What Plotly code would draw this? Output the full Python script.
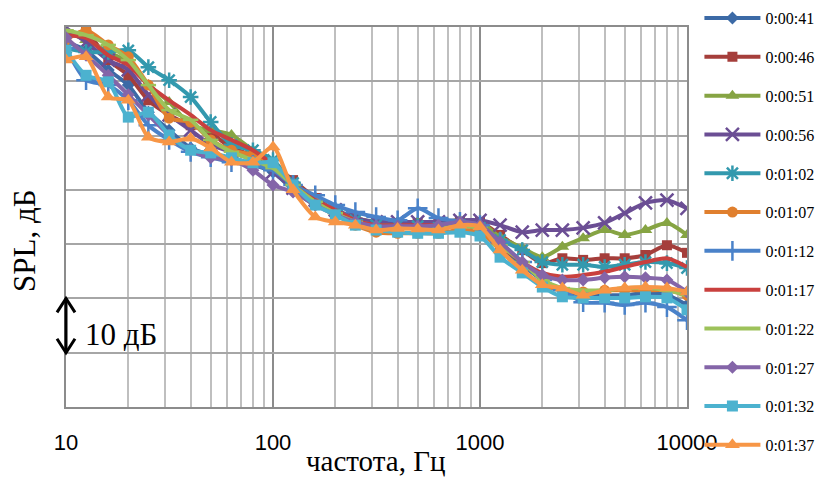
import plotly.graph_objects as go
import math

FREQ = [10, 12.5, 16, 20, 25, 31.5, 40, 50, 63, 80, 100, 125, 160, 200, 250, 315, 400, 500,
        630, 800, 1000, 1250, 1600, 2000, 2500, 3150, 4000, 5000, 6300, 8000, 10000]

NAMES = ["0:00:41", "0:00:46", "0:00:51", "0:00:56", "0:01:02", "0:01:07",
         "0:01:12", "0:01:17", "0:01:22", "0:01:27", "0:01:32", "0:01:37"]

S_0041 = [67.2, 65.7, 62.1, 59.3, 54.3, 51.0, 47.7, 46.4, 45.5, 44.6, 43.3, 40.0, 37.2, 35.7, 34.1, 33.0,
          33.0, 33.0, 33.0, 33.3, 33.0, 29.8, 26.2, 23.4, 21.5, 20.6, 20.6, 20.6, 21.0, 20.6, 18.8]
S_0046 = [68.0, 69.1, 63.9, 61.1, 56.5, 53.8, 51.9, 50.5, 47.7, 46.4, 44.6, 41.8, 38.5, 36.3, 34.8, 34.1,
          33.9, 33.9, 34.1, 34.1, 34.1, 31.7, 28.9, 26.5, 27.4, 27.1, 27.4, 27.4, 28.0, 29.8, 28.4]
S_0051 = [69.1, 67.6, 65.4, 63.5, 59.3, 56.2, 51.9, 51.0, 50.1, 47.3, 44.6, 41.4, 38.1, 36.3, 34.8, 34.1,
          34.1, 34.1, 34.1, 34.4, 34.1, 31.3, 29.3, 27.6, 29.5, 31.1, 32.6, 31.7, 32.6, 33.9, 31.7]
S_0056 = [69.8, 67.2, 63.9, 62.1, 57.5, 53.8, 51.0, 48.3, 47.0, 45.5, 43.3, 40.3, 38.1, 36.3, 34.8, 34.1,
          34.1, 34.1, 34.1, 34.4, 34.4, 33.5, 32.2, 32.6, 32.6, 33.0, 33.9, 35.7, 37.6, 38.1, 36.6]
S_0102 = [66.1, 65.4, 65.4, 65.7, 62.6, 60.2, 57.1, 52.5, 48.3, 47.3, 45.5, 41.3, 38.1, 36.3, 34.4, 33.5,
          33.5, 33.3, 33.0, 33.5, 33.0, 30.8, 28.9, 26.7, 26.2, 26.2, 25.8, 26.2, 26.7, 26.5, 25.6]
S_0107 = [67.6, 69.4, 66.7, 64.5, 59.3, 53.2, 52.5, 49.2, 47.3, 46.4, 44.6, 40.9, 37.6, 35.4, 33.5, 32.2,
          32.0, 32.0, 32.0, 32.6, 32.2, 28.9, 25.2, 22.5, 21.5, 21.2, 21.5, 21.5, 21.5, 21.5, 20.6]
S_0112 = [66.1, 60.2, 59.3, 56.5, 51.9, 49.2, 47.0, 46.0, 45.1, 44.6, 43.6, 40.9, 39.0, 37.2, 35.9, 35.0,
          34.4, 36.6, 34.8, 34.1, 33.5, 30.4, 26.7, 23.4, 21.5, 19.3, 19.2, 18.8, 19.2, 18.4, 16.0]
S_0117 = [68.5, 68.0, 64.8, 63.0, 59.3, 56.5, 53.8, 51.0, 49.2, 47.3, 44.6, 40.9, 38.1, 36.3, 34.4, 33.5,
          33.5, 33.5, 33.5, 33.9, 33.5, 29.8, 26.7, 24.7, 24.0, 24.3, 24.9, 25.8, 26.7, 27.4, 25.8]
S_0122 = [69.4, 68.5, 66.7, 63.9, 59.3, 54.7, 52.9, 49.2, 47.0, 45.5, 44.0, 40.9, 37.8, 35.7, 34.1, 33.0,
          33.0, 33.0, 33.0, 33.3, 33.0, 29.8, 26.7, 23.4, 21.9, 21.5, 21.5, 21.9, 21.9, 21.5, 20.6]
S_0127 = [68.0, 64.8, 61.1, 57.5, 53.8, 50.1, 47.3, 45.9, 45.5, 43.6, 40.9, 39.6, 37.2, 35.4, 34.1, 33.3,
          33.3, 33.3, 33.5, 34.1, 33.5, 30.4, 26.7, 24.3, 23.4, 23.4, 23.8, 24.0, 23.8, 23.4, 21.2]
S_0132 = [65.7, 61.1, 59.9, 53.4, 54.3, 50.1, 47.3, 46.8, 45.9, 45.0, 45.0, 40.9, 37.2, 35.4, 33.5, 32.6,
          32.2, 32.0, 32.0, 32.2, 31.5, 27.6, 24.7, 22.1, 20.3, 20.1, 20.1, 20.1, 20.3, 20.1, 17.9]
S_0137 = [63.9, 64.5, 57.1, 56.5, 49.7, 48.8, 49.5, 47.7, 45.1, 45.1, 47.9, 40.0, 35.0, 34.1, 33.5, 32.6,
          32.9, 32.8, 32.6, 33.5, 33.2, 28.9, 25.2, 22.5, 21.9, 20.6, 21.5, 21.9, 22.1, 21.9, 21.2]

SERIES = [S_0041, S_0046, S_0051, S_0056, S_0102, S_0107,
          S_0112, S_0117, S_0122, S_0127, S_0132, S_0137]

COLORS = ["#3C6AA6", "#A53E3B", "#86A443", "#6B4E94", "#3399AE", "#E07F2E",
          "#4A82C9", "#C9403E", "#9DC25A", "#8465A8", "#4CB2CF", "#F79646"]

SYMBOLS = ["diamond", "square", "triangle-up", "x-thin-open", "asterisk-open", "circle",
           "cross-thin-open", None, "line-ew-open", "diamond", "square", "triangle-up"]
SIZES = [10, 10, 12, 13, 13, 11, 14, 0, 11, 10, 11, 13]

XTICKS = [10, 100, 1000, 10000]
XTICK_TEXT = ["10", "100", "1000", "10000"]
MINOR = [m * d for d in (10, 100, 1000) for m in range(2, 10)]
YGRID = [0, 10, 20, 30, 40, 50, 60, 70]

fig = go.Figure()
for name, vals, col, sym, sz in zip(NAMES, SERIES, COLORS, SYMBOLS, SIZES):
    open_sym = sym is not None and ("open" in sym)
    if sym is None:
        mode = "lines"
        marker = dict()
    else:
        mode = "lines+markers"
        marker = dict(symbol=sym, size=sz, color=col,
                      line=dict(color=col, width=2.5 if open_sym else 0))
    fig.add_trace(go.Scatter(
        x=FREQ, y=vals, name=name, mode=mode,
        line=dict(color=col, width=4, shape="spline", smoothing=0.7),
        marker=marker, legendgroup=name,
    ))

fig.update_xaxes(
    type="log", range=[math.log10(10), math.log10(10000)],
    tickmode="array", tickvals=XTICKS, ticktext=XTICK_TEXT,
    showgrid=True, gridcolor="#8C8C8C", gridwidth=1.5,
    minor=dict(tickmode="array", tickvals=MINOR, showgrid=True, gridcolor="#BFBFBF", gridwidth=1.5, ticklen=0),
    showline=True, linecolor="#8C8C8C", linewidth=1.5, mirror=True,
    ticks="", tickfont=dict(family="Liberation Sans", size=22, color="#000000"),
    ticklabelstandoff=15, zeroline=False,
)
fig.update_yaxes(
    range=[0, 70], tickmode="array", tickvals=YGRID, showticklabels=False,
    showgrid=True, gridcolor="#A6A6A6", gridwidth=1.5,
    showline=True, linecolor="#8C8C8C", linewidth=1.5, mirror=True,
    ticks="", zeroline=False,
)

# 10 dB scale arrow
dx = 9 / 621.0
dy = 14 / 5.43
arrow = dict(color="#000000", width=3)
fig.add_shape(type="line", xref="paper", yref="y", x0=0, x1=0, y0=10, y1=20, line=arrow)
fig.add_shape(type="path", xref="paper", yref="y",
              path=f"M {-dx},{20 - dy} L 0,20 L {dx},{20 - dy}", line=arrow)
fig.add_shape(type="path", xref="paper", yref="y",
              path=f"M {-dx},{10 + dy} L 0,10 L {dx},{10 + dy}", line=arrow)

fig.add_annotation(text="10 дБ", xref="paper", yref="y", x=0.028, y=13.3,
                   xanchor="left", yanchor="middle", showarrow=False,
                   font=dict(family="Liberation Serif", size=31, color="#000000"))
fig.add_annotation(text="частота, Гц", xref="paper", yref="paper", x=0.498, y=-0.142,
                   xanchor="center", yanchor="middle", showarrow=False,
                   font=dict(family="Liberation Serif", size=29, color="#000000"))
fig.add_annotation(text="SPL, дБ", xref="paper", yref="paper", x=-0.066, y=0.437,
                   xanchor="center", yanchor="middle", showarrow=False, textangle=-90,
                   font=dict(family="Liberation Serif", size=31, color="#000000"))

fig.update_layout(
    width=818, height=478,
    margin=dict(l=66, r=131, t=27, b=71, autoexpand=False),
    paper_bgcolor="#FFFFFF", plot_bgcolor="#FFFFFF",
    showlegend=True,
    legend=dict(x=1.02, xanchor="left", y=1.068, yanchor="top",
                font=dict(family="Liberation Serif", size=16, color="#000000"),
                traceorder="grouped", tracegroupgap=15, itemwidth=56,
                maxheight=478, bgcolor="rgba(0,0,0,0)"),
)

fig.write_html("out.html", config={"displayModeBar": False},
               post_script="document.body.style.margin='0px';")
